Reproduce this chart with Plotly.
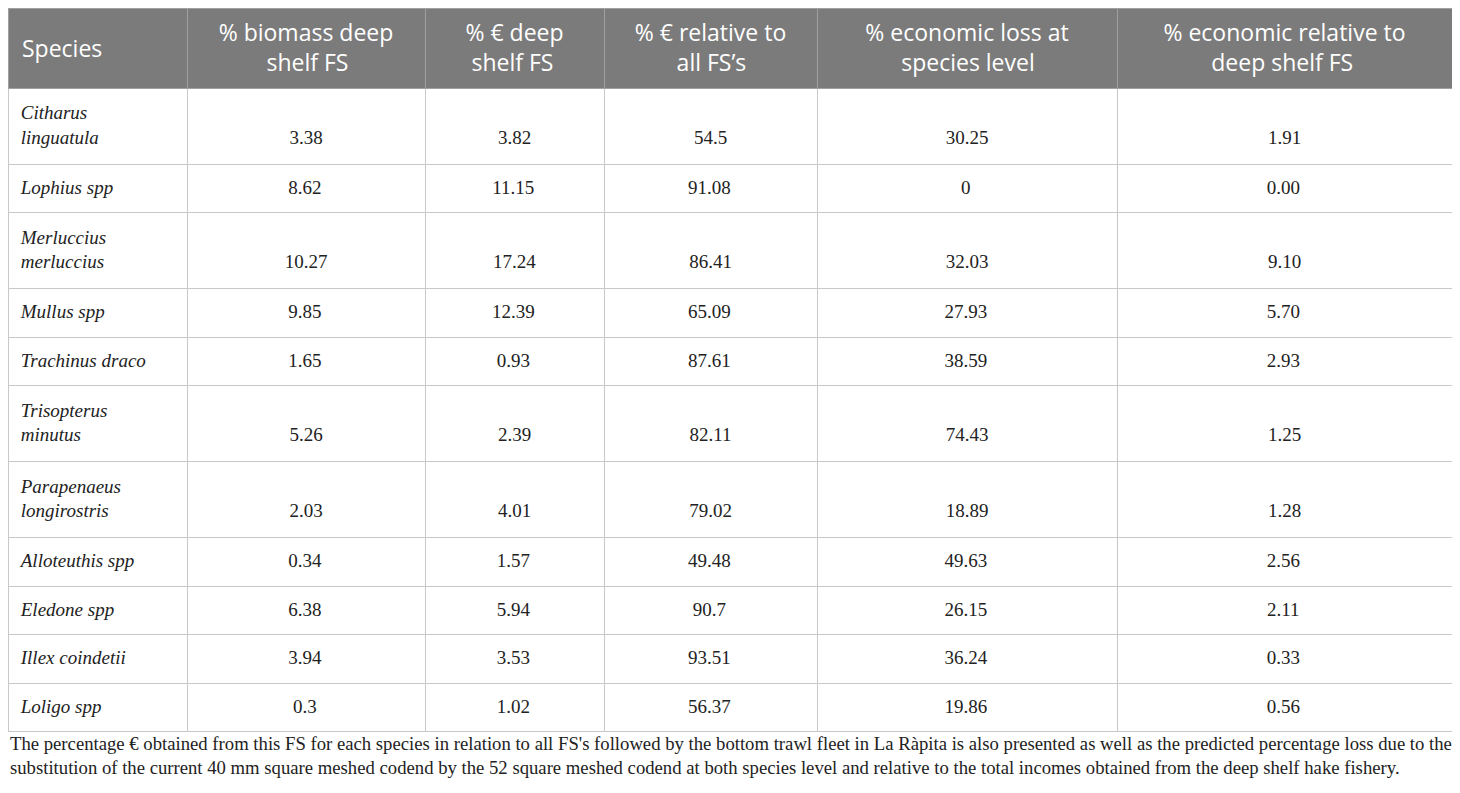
import plotly.graph_objects as go

###
# data
species = ["Citharus<br>linguatula", "Lophius spp", "Merluccius<br>merluccius", "Mullus spp",
           "Trachinus draco", "Trisopterus<br>minutus", "Parapenaeus<br>longirostris",
           "Alloteuthis spp", "Eledone spp", "Illex coindetii", "Loligo spp"]
biomass_deep = ["3.38", "8.62", "10.27", "9.85", "1.65", "5.26", "2.03", "0.34", "6.38", "3.94", "0.3"]
euro_deep = ["3.82", "11.15", "17.24", "12.39", "0.93", "2.39", "4.01", "1.57", "5.94", "3.53", "1.02"]
euro_all_fs = ["54.5", "91.08", "86.41", "65.09", "87.61", "82.11", "79.02", "49.48", "90.7", "93.51", "56.37"]
loss_species = ["30.25", "0", "32.03", "27.93", "38.59", "74.43", "18.89", "49.63", "26.15", "36.24", "19.86"]
loss_deep = ["1.91", "0.00", "9.10", "5.70", "2.93", "1.25", "1.28", "2.56", "2.11", "0.33", "0.56"]

# header: (first line, second line, nbsp padding so the short line looks centred)
headers = [("% biomass deep", "shelf FS", 8),
           ("% € deep", "shelf FS", 1),
           ("% € relative to", "all FS’s", 7),
           ("% economic loss at", "species level", 6),
           ("% economic relative to", "deep shelf FS", 8)]

caption = ("The percentage € obtained from this FS for each species in relation to all FS's followed by the bottom "
           "trawl fleet in La Ràpita is also presented as well as the predicted percentage loss due to the<br>"
           "substitution of the current 40 mm square meshed codend by the 52 square meshed codend at both species "
           "level and relative to the total incomes obtained from the deep shelf hake fishery.")

# the page body has an 8px margin, so the figure itself is the table box
W, H = 1444, 777

NB = "\u00a0"
# invisible spaces of a chosen size: plotly puts the top of the text box at the
# cell padding, so these move the text down / make a row taller
def sp(px):
  return "<span style='font-size:%spx'>%s</span>" % (px, NB)

# raised tiny space (no blanks in it, so plotly's word wrap leaves it alone)
LIFT = "<sup><sup>" + NB + "</sup></sup>"

header_text = [sp(10) + "<br>" + NB + "Species"] + [a + "<br>" + NB * n + b for a, b, n in headers]

def name_cell(s):
  if "<br>" in s:
    a, b = s.split("<br>")
    return NB + "<i>" + a + "</i><br>" + NB + "<i>" + b + "</i>" + sp(54)
  return NB + "<i>" + s + "</i>" + LIFT

# numbers sit on the second line when the name wraps
def col(vals):
  return [(sp(26) + "<br>" + v) if "<br>" in s else (v + LIFT) for s, v in zip(species, vals)]

cells = [[name_cell(s) for s in species]] + [col(v) for v in
         [biomass_deep, euro_deep, euro_all_fs, loss_species, loss_deep]]

fig = go.Figure(go.Table(
  domain=dict(x=[0, 1], y=[0, 1]),
  columnwidth=[179, 238, 179, 213, 300, 335],
  header=dict(
    values=header_text,
    fill_color="#7b7b7b",
    line=dict(color="#a0a0a0", width=1),
    font=dict(family="Open Sans", size=23, color="white"),
    align=["left", "center"],
    height=80,
  ),
  cells=dict(
    values=cells,
    fill_color="white",
    line=dict(color="#c8c8c8", width=1),
    font=dict(family="Liberation Serif", size=19, color="#222222"),
    align=["left", "center"],
    height=48.5,
  ),
))

fig.add_annotation(
  text=caption, xref="paper", yref="paper", x=0, y=1 - 723 / H,
  xanchor="left", yanchor="top", align="left", showarrow=False,
  font=dict(family="Liberation Serif", size=18.7, color="#222222"),
)

fig.update_layout(width=W, height=H, margin=dict(l=0, r=0, t=0, b=0),
                  paper_bgcolor="white", plot_bgcolor="white")

fig.write_html("out.html")
